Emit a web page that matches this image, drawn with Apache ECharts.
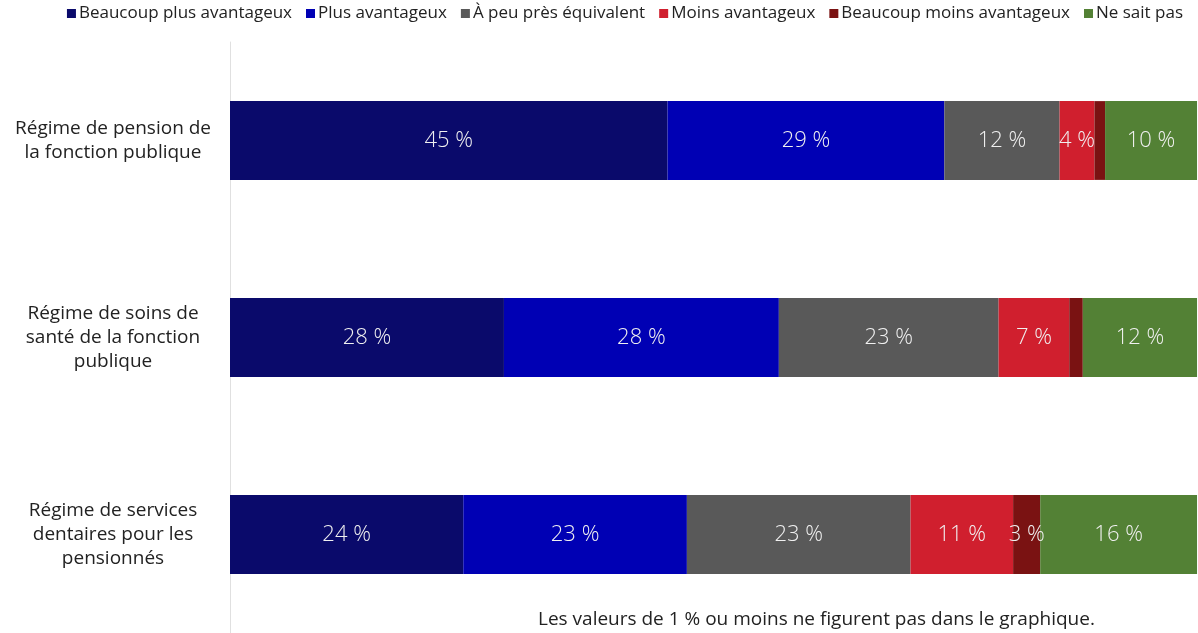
<!DOCTYPE html>
<html>
<head>
<meta charset="utf-8">
<script src="https://cdn.jsdelivr.net/npm/echarts@6/dist/echarts.min.js"></script>
<style>
  html, body { margin: 0; padding: 0; background: #fff; }
  #chart { width: 1198px; height: 633px; }
</style>
</head>
<body>
<div id="chart"></div>
<script>
const categories = [
  'Régime de pension de\nla fonction publique',
  'Régime de soins de\nsanté de la fonction\npublique',
  'Régime de services\ndentaires pour les\npensionnés'
]
const seriesNames = [
  'Beaucoup plus avantageux',
  'Plus avantageux',
  'À peu près équivalent',
  'Moins avantageux',
  'Beaucoup moins avantageux',
  'Ne sait pas'
]
const colors = ['#0a0a6b', '#0000b4', '#595959', '#d01f2e', '#7a1212', '#538135']

// per series, one value per category (top to bottom)
const beaucoupPlus  = [45.2, 28.3, 24.1]
const plus          = [28.6, 28.4, 23.1]
const equivalent    = [11.9, 22.7, 23.1]
const moins         = [3.6, 7.3, 10.6]
const beaucoupMoins = [1.1, 1.4, 2.8]
const neSaitPas     = [9.5, 11.8, 16.2]

const values = [beaucoupPlus, plus, equivalent, moins, beaucoupMoins, neSaitPas]
const font = '"Open Sans", Roboto, sans-serif'

var myChart = echarts.init(document.getElementById('chart'), null, { renderer: 'canvas' })

var option = {
  animation: false,
  textStyle: { fontFamily: font },
  legend: {
    top: 0,
    right: 10,
    itemWidth: 9,
    itemHeight: 9,
    itemGap: 14,
    icon: 'rect',
    textStyle: { fontSize: 17, color: '#222', fontFamily: font, padding: [0, 0, 0, -2] },
    data: seriesNames
  },
  grid: { left: 230, right: 0, top: 42, height: 595 },
  xAxis: {
    type: 'value',
    min: 0,
    max: 100,
    show: false
  },
  yAxis: {
    type: 'category',
    inverse: true,
    data: categories,
    axisLine: { show: true, lineStyle: { color: '#e0e0e0', width: 1 } },
    axisTick: { show: false },
    axisLabel: {
      align: 'center',
      margin: 117,
      fontSize: 19,
      lineHeight: 24,
      color: '#222',
      fontFamily: font
    }
  },
  series: seriesNames.map((name, i) => ({
    name: name,
    type: 'bar',
    stack: 'total',
    barWidth: '40%',
    itemStyle: { color: colors[i] },
    label: {
      show: true,
      position: 'inside',
      color: '#f0f0f0',
      fontSize: 22,
      fontWeight: 300,
      fontFamily: font,
      formatter: p => Math.round(p.value) <= 1 ? '' : Math.round(p.value) + ' %'
    },
    data: values[i]
  })),
  graphic: [{
    type: 'text',
    left: 538,
    top: 610,
    style: {
      text: 'Les valeurs de 1 % ou moins ne figurent pas dans le graphique.',
      fontSize: 19,
      fill: '#222',
      fontFamily: font
    }
  }]
}

option && myChart.setOption(option)
</script>
</body>
</html>
